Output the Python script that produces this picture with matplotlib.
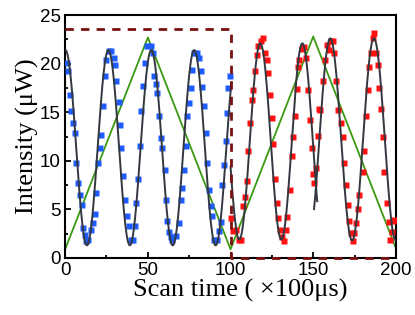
import numpy as np
import matplotlib
matplotlib.use("Agg")
from matplotlib import pyplot as plt
from matplotlib.ticker import MultipleLocator

# measured points, first scan (blue)
blue_x = [1.2, 1.8, 3.2, 3.8, 4.8, 5.8, 6.8, 7.6, 8.9, 9.9, 10.9, 11.9, 12.9, 13.9,
          15.9, 16.9, 17.9, 18.9, 19.9, 20.9, 21.9, 22.9, 24.0, 25.0, 26.4, 28.0,
          29.4, 30.4, 31.0, 32.4, 33.0, 34.0, 35.0, 36.0, 37.1, 38.5, 40.1, 41.1,
          42.1, 43.1, 44.1, 45.1, 46.1, 46.9, 48.1, 49.5, 51.8, 53.2, 53.8, 55.2,
          55.8, 56.8, 57.8, 58.8, 60.2, 60.8, 61.8, 62.8, 63.8, 64.9, 66.9, 68.9,
          69.9, 70.9, 71.9, 72.9, 73.9, 74.9, 75.9, 76.9, 78.0, 79.6, 81.0, 82.0,
          83.0, 84.0, 85.0, 86.0, 87.0, 88.0, 89.0, 90.0, 92.1, 93.1, 94.1, 95.1,
          96.1, 97.1, 97.7, 98.7, 99.7]
blue_y = [20.1, 19.2, 16.8, 15.1, 13.9, 12.9, 9.8, 7.7, 6.5, 5.5, 3.1, 2.4, 1.7, 1.8,
          2.9, 3.6, 4.5, 6.7, 9.8, 11.3, 12.7, 15.6, 18.7, 20.4, 21.3, 21.3,
          20.6, 19.9, 18.2, 16.1, 13.7, 11.3, 8.4, 6.0, 4.3, 3.3, 1.8, 1.8,
          3.3, 5.7, 8.1, 11.5, 15.1, 17.7, 20.1, 21.8, 21.8, 21.1, 18.7, 17.9,
          17.0, 14.6, 12.4, 11.3, 9.1, 6.0, 3.8, 2.7, 2.2, 1.8, 2.3, 3.6,
          6.0, 7.2, 9.1, 11.5, 14.6, 16.0, 17.5, 19.4, 21.1, 21.1, 20.6, 19.2,
          17.6, 15.6, 12.9, 9.8, 7.0, 5.3, 4.3, 1.8, 1.8, 2.8, 3.7, 7.5,
          9.6, 12.0, 14.9, 17.5, 18.7]

# measured points, second scan (red)
red_x = [100.5, 101.5, 103.1, 105.1, 106.1, 107.7, 108.8, 109.8, 110.8, 111.8, 112.8,
         113.8, 114.8, 115.8, 116.8, 118.2, 119.8, 120.8, 121.9, 122.9, 123.9,
         124.9, 125.9, 126.9, 127.9, 128.9, 130.0, 131.0, 132.3, 133.4, 134.3,
         135.9, 136.9, 138.0, 139.0, 140.0, 141.0, 141.6, 143.0, 144.4, 145.4,
         146.8, 148.0, 149.0, 150.0, 150.4, 151.6, 152.6, 153.7, 154.1, 155.7,
         157.1, 158.1, 159.7, 160.7, 161.7, 162.7, 163.7, 165.2, 166.8, 167.8,
         168.8, 169.8, 170.8, 171.8, 172.8, 173.8, 174.8, 175.8, 176.8, 177.8,
         179.9, 180.9, 181.9, 182.9, 183.9, 184.9, 185.9, 186.9, 187.9, 188.9,
         189.9, 190.9, 191.9, 192.9, 194.4, 195.6, 196.4, 197.4, 198.4, 198.8]
red_y = [4.1, 2.8, 2.9, 1.9, 1.9, 5.3, 6.3, 7.9, 11.0, 13.9, 16.3,
         17.3, 19.2, 20.9, 21.8, 22.3, 22.6, 21.1, 20.4, 19.0, 16.8,
         14.4, 11.7, 8.1, 5.7, 4.1, 2.9, 2.2, 1.7, 2.9, 4.2,
         7.0, 10.5, 12.5, 14.6, 17.4, 19.7, 20.4, 21.5, 21.7, 20.6,
         17.3, 14.2, 11.3, 8.6, 7.7, 9.3, 12.6, 15.3, 15.2, 18.2,
         20.4, 21.9, 21.4, 22.3, 22.3, 21.1, 18.2, 15.2, 13.9, 12.5,
         9.8, 7.5, 5.5, 3.8, 2.6, 1.7, 2.6, 3.6, 5.0, 6.5,
         8.8, 11.0, 14.6, 17.3, 19.7, 21.1, 22.6, 23.2, 21.1, 19.9,
         17.5, 15.3, 12.5, 8.9, 5.7, 3.7, 1.9, 2.7, 3.8, 3.9]

# sine fits, one per segment: y = offset + amp*cos(2pi (x - peak)/period)
fit_start = [0, 100, 150.5]
fit_end = [100.5, 152.4, 200]
fit_offset = [11.35, 12.0, 12.2]
fit_amp = [10.05, 10.1, 10.4]
fit_period = [25.94, 25.4, 26.4]
fit_peak = [0.2, 143.4, 160.3]

# scan ramp (green) and gate signal (dashed)
ramp_x = [0, 50, 100, 150, 200]
ramp_y = [0.9, 22.7, 0.9, 22.8, 1.0]
gate_x = [0, 100, 100, 200]
gate_y = [23.6, 23.6, 0, 0]

fig = plt.figure(figsize=(4.15, 3.15), dpi=100)
ax = fig.add_axes([0.157, 0.181, 0.797, 0.771])

ax.plot(ramp_x, ramp_y, color="#3a9a10", lw=1.3, zorder=2)
ax.plot(blue_x, blue_y, "s", color="#1f5cff", ms=3.9, mec="none", zorder=3)
ax.plot(red_x, red_y, "s", color="#ff1010", ms=3.9, mec="none", zorder=3)

for i in range(len(fit_start)):
    xs = np.linspace(fit_start[i], fit_end[i], 400)
    ys = fit_offset[i] + fit_amp[i] * np.cos(2 * np.pi * (xs - fit_peak[i]) / fit_period[i])
    ax.plot(xs, ys, color="#333840", lw=1.4, zorder=4)

ax.plot(gate_x, gate_y, color="#7a1010", lw=2.0, dashes=(3.0, 2.6), zorder=5, clip_on=False)

ax.set_xlim(0, 200)
ax.set_ylim(0, 25)
ax.xaxis.set_major_locator(MultipleLocator(50))
ax.xaxis.set_minor_locator(MultipleLocator(25))
ax.yaxis.set_major_locator(MultipleLocator(5))
ax.yaxis.set_minor_locator(MultipleLocator(2.5))
ax.tick_params(which="both", direction="in", top=False, right=False, width=1.3)
ax.tick_params(which="major", length=4.5, labelsize=13.5)
ax.tick_params(axis="x", which="major", pad=3)
ax.tick_params(axis="y", which="major", pad=3)
ax.tick_params(which="minor", length=2.5)
for lab in ax.get_xticklabels() + ax.get_yticklabels():
    lab.set_family("Liberation Sans")
for s in ax.spines.values():
    s.set_linewidth(1.5)

ax.set_xlabel("Scan time ( \u00d7100\u03bcs)", family="Liberation Serif", fontsize=19, labelpad=0)
ax.xaxis.label.set_x(0.53)
ax.set_ylabel("Intensity (\u03bcW)", family="Liberation Serif", fontsize=19, labelpad=1)

fig.savefig("out.png", dpi=100)
